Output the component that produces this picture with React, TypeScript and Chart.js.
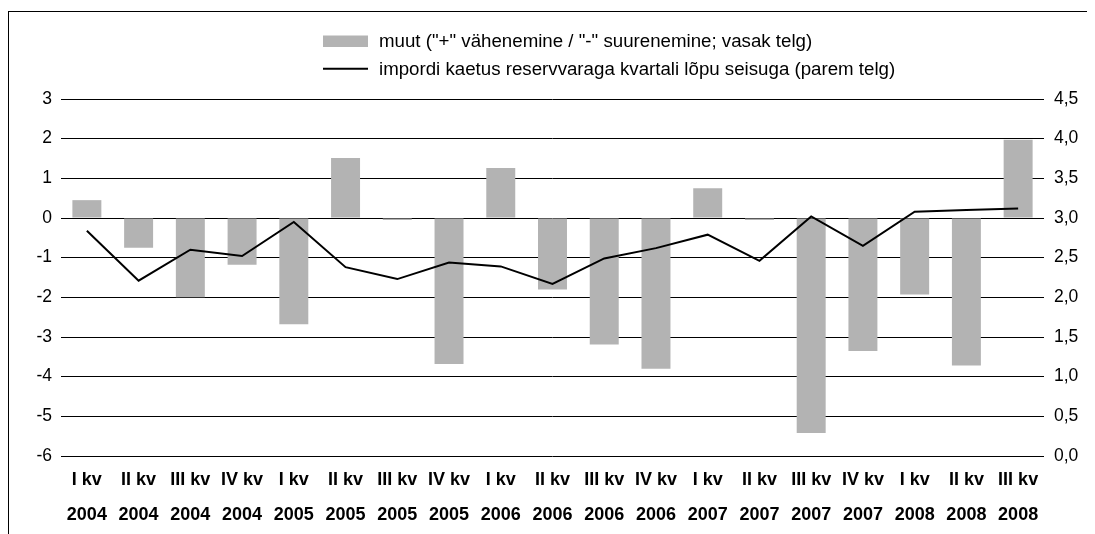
import React, { useEffect, useRef } from "react";
import { Chart, registerables } from "chart.js";

Chart.register(...registerables);

const quarters = ["I kv", "II kv", "III kv", "IV kv", "I kv", "II kv", "III kv", "IV kv", "I kv", "II kv", "III kv", "IV kv", "I kv", "II kv", "III kv", "IV kv", "I kv", "II kv", "III kv"];
const years = ["2004", "2004", "2004", "2004", "2005", "2005", "2005", "2005", "2006", "2006", "2006", "2006", "2007", "2007", "2007", "2007", "2008", "2008", "2008"];

const changeValues = [0.45, -0.75, -2.0, -1.18, -2.68, 1.51, -0.05, -3.68, 1.26, -1.8, -3.19, -3.8, 0.75, -0.05, -5.42, -3.35, -1.93, -3.72, 1.97];
const importCover = [2.84, 2.21, 2.6, 2.52, 2.95, 2.38, 2.23, 2.44, 2.39, 2.17, 2.49, 2.62, 2.79, 2.46, 3.02, 2.65, 3.08, 3.1, 3.12];

const leftTickValues = [-6, -5, -4, -3, -2, -1, 0, 1, 2, 3];
const leftTickLabels = ["-6", "-5", "-4", "-3", "-2", "-1", "0", "1", "2", "3"];
const rightTickValues = [0, 0.5, 1, 1.5, 2, 2.5, 3, 3.5, 4, 4.5];
const rightTickLabels = ["0,0", "0,5", "1,0", "1,5", "2,0", "2,5", "3,0", "3,5", "4,0", "4,5"];

const barLabel = 'muut ("+" vähenemine / "-" suurenemine; vasak telg)';
const lineLabel = "impordi kaetus reservvaraga kvartali lõpu seisuga (parem telg)";

const FONT = '"Liberation Sans", Arial, Helvetica, sans-serif';

const stackedLegend = {
  id: "stackedLegend",
  afterDraw(chart: any) {
    const ctx = chart.ctx;
    const ds = chart.data.datasets;
    ctx.save();
    ctx.font = `18.7px ${FONT}`;
    ctx.textBaseline = "alphabetic";
    ctx.textAlign = "left";
    // bar item
    ctx.fillStyle = ds[0].backgroundColor;
    ctx.fillRect(314, 23.5, 45, 11.5);
    ctx.fillStyle = "#000";
    ctx.fillText(ds[0].label, 370, 35);
    // line item
    ctx.strokeStyle = ds[1].borderColor;
    ctx.lineWidth = 2;
    ctx.beginPath();
    ctx.moveTo(314, 56.7);
    ctx.lineTo(359, 56.7);
    ctx.stroke();
    ctx.fillText(ds[1].label, 370, 63.3);
    ctx.restore();
  },
};

export default function App() {
  const canvasRef = useRef<HTMLCanvasElement | null>(null);

  useEffect(() => {
    if (!canvasRef.current) return;
    const labels = quarters.map((q, i) => [q, years[i]]);
    const chart = new Chart(canvasRef.current, {
      type: "bar",
      data: {
        labels,
        datasets: [
          {
            type: "bar",
            label: barLabel,
            data: changeValues,
            backgroundColor: "#b3b3b3",
            borderWidth: 0,
            yAxisID: "y",
            categoryPercentage: 1,
            barPercentage: 0.56,
            order: 1,
          } as any,
          {
            type: "line",
            label: lineLabel,
            data: importCover,
            borderColor: "#000",
            backgroundColor: "#000",
            borderWidth: 2,
            pointRadius: 0,
            tension: 0,
            yAxisID: "y1",
            order: 0,
          } as any,
        ],
      },
      options: {
        responsive: false,
        animation: false,
        layout: { padding: { top: 87, left: 0, right: 0, bottom: 0 } },
        plugins: {
          legend: { display: false },
          tooltip: { enabled: false },
        },
        scales: {
          x: {
            type: "category",
            offset: true,
            grid: { display: false, drawTicks: false },
            border: { display: false },
            ticks: {
              color: "#000",
              font: { family: FONT, size: 18, weight: "bold", lineHeight: 1.97 },
              padding: 6,
              maxRotation: 0,
              autoSkip: false,
            },
            afterFit: (s: any) => {
              s.height = 78;
            },
          },
          y: {
            position: "left",
            min: -6,
            max: 3,
            afterBuildTicks: (s: any) => {
              s.ticks = leftTickValues.map((v) => ({ value: v }));
            },
            grid: { color: "#000", lineWidth: 1, drawTicks: false },
            border: { display: false },
            ticks: {
              color: "#000",
              font: { family: FONT, size: 17.5 },
              padding: 9,
              callback: (_v: any, i: number) => leftTickLabels[i],
            },
            afterFit: (s: any) => {
              s.width = 52;
            },
          },
          y1: {
            position: "right",
            min: 0,
            max: 4.5,
            afterBuildTicks: (s: any) => {
              s.ticks = rightTickValues.map((v) => ({ value: v }));
            },
            grid: { display: false, drawTicks: false },
            border: { display: false },
            ticks: {
              color: "#000",
              font: { family: FONT, size: 17.5 },
              padding: 10,
              callback: (_v: any, i: number) => rightTickLabels[i],
            },
            afterFit: (s: any) => {
              s.width = 51;
            },
          },
        },
      } as any,
      plugins: [stackedLegend],
    });
    return () => chart.destroy();
  }, []);

  return (
    <div style={{ paddingTop: 3 }}>
      <div
        style={{
          boxSizing: "border-box",
          width: 1087,
          height: 523,
          borderTop: "1px solid #000",
          borderLeft: "1px solid #000",
          overflow: "hidden",
        }}
      >
        <canvas ref={canvasRef} width={1086} height={522} style={{ display: "block", width: 1086, height: 522 }} />
      </div>
    </div>
  );
}
